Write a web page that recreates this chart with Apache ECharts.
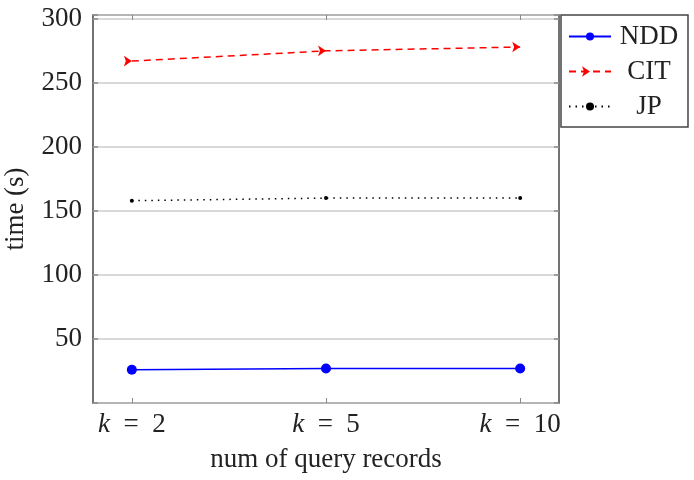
<!DOCTYPE html>
<html lang="en">
  <head>
    <meta charset="UTF-8" />
    <title>time vs query records</title>
    <script src="https://cdn.jsdelivr.net/npm/echarts@6.0.0/dist/echarts.min.js"></script>
    <style>
      body { margin: 0; background: #fff; }
    </style>
  </head>
  <body>
    <div id="main" style="width: 694px; height: 480px"></div>
  </body>
  <script>
    // k values on the x axis
    const kValues = [2, 5, 10];
    const xIndex = [0, 1, 2];

    // time (s)
    const ndd = [26, 27, 27];
    const cit = [267, 275, 278];
    const jp = [158, 160, 160];

    const seriesNames = ["NDD", "CIT", "JP"];
    const yTicks = [50, 100, 150, 200, 250, 300];

    const font = "Liberation Serif";
    const fs = 27;

    var myChart = echarts.init(document.getElementById("main"));

    const toPts = (arr) => arr.map((v, i) => [xIndex[i], v]);

    const xBase = {
      type: "value",
      min: -0.2,
      max: 2.2,
      axisLine: { show: false, onZero: false },
      splitLine: { show: false },
      axisTick: {
        inside: true,
        length: 5,
        customValues: xIndex,
        lineStyle: { color: "#888", width: 1 },
      },
    };

    const yBase = {
      type: "value",
      min: 0,
      max: 303,
      interval: 50,
      axisLine: { show: false, onZero: false },
      axisTick: {
        inside: true,
        length: 5,
        lineStyle: { color: "#888", width: 1.5 },
      },
    };

    var option = {
      backgroundColor: "#fff",
      animation: false,
      textStyle: { fontFamily: font },
      grid: {
        left: 93,
        top: 15,
        width: 466,
        height: 388,
        outerBoundsMode: "none",
        containLabel: false,
        show: true,
        borderColor: "#444",
        borderWidth: 1.5,
      },
      legend: {
        orient: "vertical",
        left: 561,
        top: 15,
        padding: [8, 6, 7, 7],
        itemGap: 8,
        itemWidth: 42,
        itemHeight: 10,
        borderColor: "#444",
        borderWidth: 1.5,
        backgroundColor: "#fff",
        data: seriesNames,
        formatter: (n) => "{a|" + n + "}",
        textStyle: {
          fontFamily: font,
          fontSize: fs,
          lineHeight: 22,
          color: "#222",
          rich: {
            a: { fontFamily: font, fontSize: fs, width: 66, align: "center", lineHeight: 22 },
          },
        },
      },
      xAxis: [
        Object.assign({}, xBase, {
          position: "bottom",
          name: "num of query records",
          nameLocation: "middle",
          nameGap: 43,
          nameTextStyle: { fontFamily: font, fontSize: fs, color: "#222" },
          axisLabel: {
            customValues: xIndex,
            margin: 8,
            fontFamily: font,
            fontSize: fs,
            color: "#222",
            formatter: (v) => {
              const i = xIndex.indexOf(Math.round(v));
              return "{i|k}\u2002=\u2002" + kValues[i];
            },
            rich: {
              i: { fontFamily: font, fontSize: fs, fontStyle: "italic", color: "#222" },
            },
          },
        }),
        Object.assign({}, xBase, {
          position: "top",
          axisLabel: { show: false },
        }),
      ],
      yAxis: [
        Object.assign({}, yBase, {
          position: "left",
          name: "time (s)",
          nameLocation: "middle",
          nameGap: 64,
          nameTextStyle: { fontFamily: font, fontSize: fs, color: "#222" },
          splitLine: { show: true, lineStyle: { color: "#ccc", width: 1.5 } },
          axisLabel: {
            margin: 11,
            fontFamily: font,
            fontSize: fs,
            color: "#222",
            formatter: (v) => (yTicks.indexOf(v) >= 0 ? String(v) : ""),
          },
        }),
        Object.assign({}, yBase, {
          position: "right",
          splitLine: { show: false },
          axisLabel: { show: false },
        }),
      ],
      series: [
        {
          name: seriesNames[0],
          type: "line",
          data: toPts(ndd),
          symbol: "circle",
          symbolSize: 10,
          itemStyle: { color: "#0000ff" },
          lineStyle: { color: "#0000ff", width: 1.5 },
        },
        {
          name: seriesNames[1],
          type: "line",
          data: toPts(cit),
          symbol: "arrow",
          symbolSize: 8,
          symbolRotate: -90,
          itemStyle: { color: "#ff0000" },
          lineStyle: { color: "#ff0000", width: 1.5, type: [7, 5] },
        },
        {
          name: seriesNames[2],
          type: "line",
          data: toPts(jp),
          symbol: "circle",
          symbolSize: 4,
          itemStyle: { color: "#000" },
          lineStyle: { color: "#000", width: 1.5, type: [1.5, 5] },
        },
      ],
    };

    myChart.setOption(option);
  </script>
</html>
